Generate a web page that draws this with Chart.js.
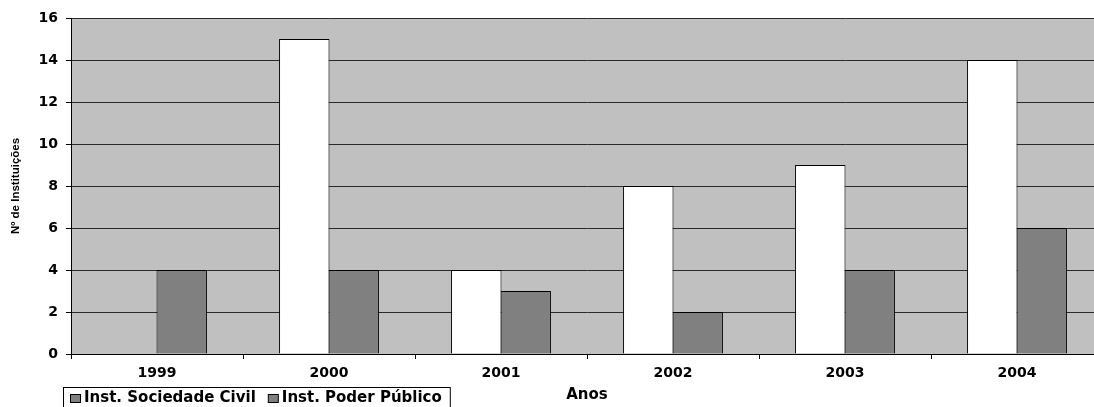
<!DOCTYPE html>
<html>
<head>
<meta charset="utf-8">
<script src="https://cdn.jsdelivr.net/npm/chart.js@4/dist/chart.umd.min.js"></script>
<style>
  html, body { margin: 0; padding: 0; background: #ffffff; overflow: hidden; }
  #wrap { position: relative; width: 1110px; height: 407px; }
</style>
</head>
<body>
<div id="wrap"><canvas id="chart"></canvas></div>
<script>
// Institutions per year, by type
const anos = ['1999', '2000', '2001', '2002', '2003', '2004'];
const sociedadeCivil = [0, 15, 4, 8, 9, 14];
const poderPublico = [4, 4, 3, 2, 4, 6];
const yMin = 0;
const yMax = 16;
const yStep = 2;

const legendLabels = ['Inst. Sociedade Civil', 'Inst. Poder Público'];

// Silver plot background behind the bars
const plotBackground = {
  id: 'plotBackground',
  beforeDraw(chart) {
    const { ctx, chartArea: a } = chart;
    ctx.save();
    ctx.fillStyle = '#c0c0c0';
    ctx.fillRect(a.left, a.top, a.right - a.left, a.bottom - a.top);
    ctx.restore();
  }
};

// Boxed legend in the lower-left corner
const boxedLegend = {
  id: 'boxedLegend',
  afterDraw(chart) {
    const ctx = chart.ctx;
    ctx.save();
    ctx.font = 'bold 15px "DejaVu Sans"';
    ctx.textBaseline = 'middle';
    const left = 63, top = 387, textY = 398;
    let x = left + 7;
    chart.data.datasets.forEach((ds, i) => {
      ctx.fillStyle = '#808080';
      ctx.fillRect(x + 0.5, 394.5, 10, 8);
      ctx.strokeStyle = '#000000';
      ctx.lineWidth = 1;
      ctx.strokeRect(x + 0.5, 394.5, 10, 8);
      x += 14;
      ctx.fillStyle = '#000000';
      ctx.fillText(legendLabels[i], x, textY);
      x += ctx.measureText(legendLabels[i]).width + 12;
    });
    const right = x - 12 + 8;
    ctx.strokeStyle = '#000000';
    ctx.lineWidth = 1;
    ctx.strokeRect(left + 0.5, top + 0.5, right - left, 30);
    ctx.restore();
  }
};

new Chart(document.getElementById('chart'), {
  type: 'bar',
  data: {
    labels: anos,
    datasets: [
      {
        label: legendLabels[0],
        data: sociedadeCivil,
        backgroundColor: '#ffffff',
        borderColor: '#000000',
        borderWidth: 1,
        borderSkipped: 'start'
      },
      {
        label: legendLabels[1],
        data: poderPublico,
        backgroundColor: '#808080',
        borderColor: '#000000',
        borderWidth: 1,
        borderSkipped: 'start'
      }
    ]
  },
  options: {
    responsive: true,
    maintainAspectRatio: false,
    animation: false,
    devicePixelRatio: 1,
    layout: { padding: { top: 18, right: 7, left: 0, bottom: 0 } },
    datasets: { bar: { categoryPercentage: 0.575, barPercentage: 1.02 } },
    plugins: {
      legend: { display: false },
      tooltip: { enabled: false }
    },
    scales: {
      x: {
        offset: true,
        grid: {
          offset: true,
          drawOnChartArea: false,
          drawTicks: true,
          tickLength: 5,
          color: '#000000'
        },
        border: { display: true, color: '#000000', width: 1 },
        ticks: {
          color: '#000000',
          font: { family: '"DejaVu Sans"', weight: 'bold', size: 14 },
          padding: 6,
          maxRotation: 0,
          autoSkip: false
        },
        title: {
          display: true,
          text: 'Anos',
          color: '#000000',
          font: { family: '"DejaVu Sans"', weight: 'bold', size: 15 },
          padding: { top: 0, bottom: 3 }
        },
        afterFit(scale) { scale.height = 53; }
      },
      y: {
        min: yMin,
        max: yMax,
        grid: {
          color: '#2a2a2a',
          lineWidth: 1,
          drawTicks: true,
          tickLength: 5,
          tickColor: '#000000'
        },
        border: { display: true, color: '#000000', width: 1 },
        ticks: {
          stepSize: yStep,
          color: '#000000',
          font: { family: '"DejaVu Sans"', weight: 'bold', size: 14 },
          padding: 8
        },
        title: {
          display: true,
          text: 'Nº de Instituições',
          color: '#000000',
          font: { family: '"Liberation Sans"', weight: 'bold', size: 11.5 },
          padding: { top: 9, bottom: 0 }
        },
        afterFit(scale) { scale.width = 71; }
      }
    }
  },
  plugins: [plotBackground, boxedLegend]
});
</script>
</body>
</html>
